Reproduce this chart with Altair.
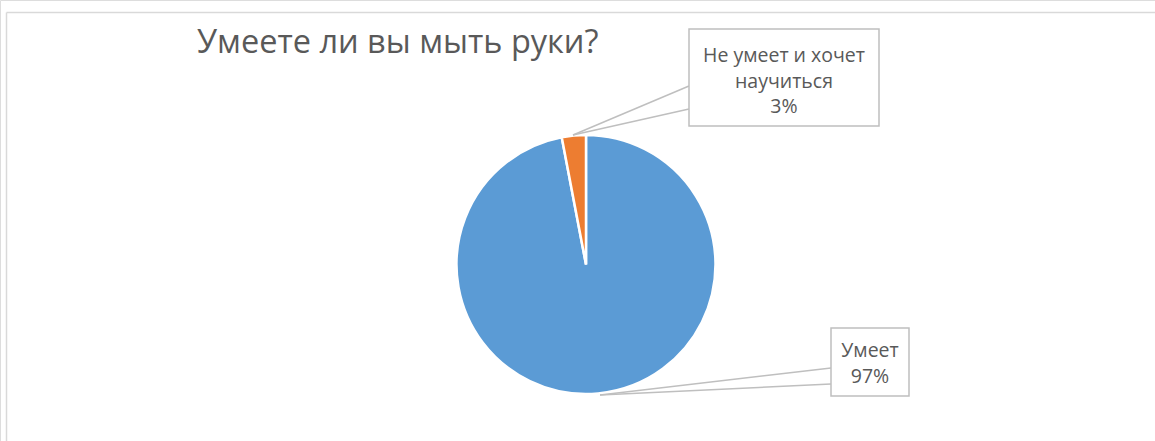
import altair as alt
import pandas as pd

# Data
categories = ["Умеет", "Не умеет и хочет научиться"]
values = [97, 3]
colors = ["#5B9BD5", "#ED7D31"]
title_text = "Умеете ли вы мыть руки?"
label_lines = [["Умеет", "97%"], ["Не умеет и хочет", "научиться", "3%"]]

W, H = 1155, 441
FONT = "Open Sans"
TXT = "#595959"
LINE = "#BFBFBF"

df = pd.DataFrame({"cat": categories, "val": values, "ord": [0, 1]})
one = pd.DataFrame({"k": [0]})

pie = alt.Chart(df).mark_arc(outerRadius=129.5, stroke="white", strokeWidth=2.5).encode(
    theta=alt.Theta("val:Q", stack=True),
    color=alt.Color("cat:N", scale=alt.Scale(domain=categories, range=colors), legend=None),
    order=alt.Order("ord:Q"),
    x=alt.value(586),
    y=alt.value(264.5),
)

def rule(x1, y1, x2, y2, color=LINE, w=1.5):
    return alt.Chart(one).mark_rule(color=color, strokeWidth=w).encode(
        x=alt.value(x1), y=alt.value(y1), x2=alt.value(x2), y2=alt.value(y2))

def box(x1, y1, x2, y2):
    return alt.Chart(one).mark_rect(fill="white", stroke=LINE, strokeWidth=1.5).encode(
        x=alt.value(x1), y=alt.value(y1), x2=alt.value(x2), y2=alt.value(y2))

def text(lines, x, y, size, align="center"):
    return alt.Chart(one).mark_text(
        text=lines, font=FONT, fontSize=size, color=TXT, align=align,
        baseline="alphabetic", lineHeight=25.5).encode(x=alt.value(x), y=alt.value(y))

layers = [
    # chart frame
    rule(6.5, 12.5, W + 5, 12.5, "#D9D9D9", 1.5),
    rule(6.5, 12.5, 6.5, H + 5, "#D9D9D9", 1.5),
    pie,
    # leader lines
    rule(573, 135, 689, 86), rule(573, 135, 689, 109),
    rule(600, 395, 831, 368), rule(600, 395, 831, 384),
    # label boxes
    box(689, 29, 879, 126),
    box(831, 328, 909, 396),
    text(label_lines[1], 784, 62, 19.5),
    text(label_lines[0], 870, 357, 19.5),
    text(title_text, 197, 53, 32.5, align="left"),
]

chart = alt.layer(*layers).properties(
    width=W, height=H, padding=0, autosize=alt.AutoSizeParams(type="none")
).configure_view(stroke=None).configure(background="white")

chart.save("out.html", embed_options={"renderer": "svg", "actions": False})
